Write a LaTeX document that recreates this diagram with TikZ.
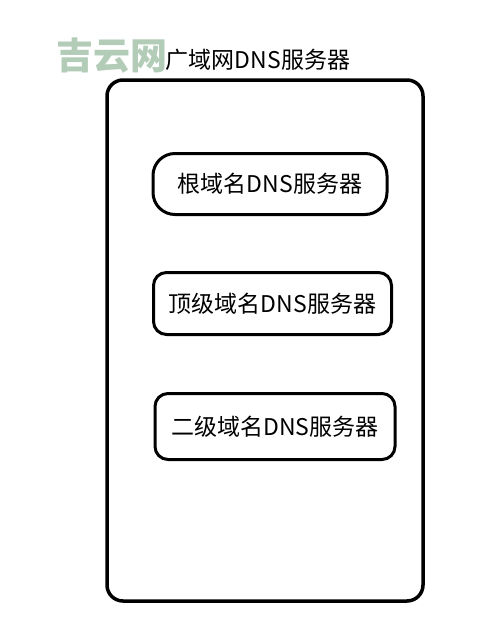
\documentclass[tikz,border=0pt]{standalone}
\usepackage{fontspec}
\setmainfont{Noto Sans CJK SC}
\newfontfamily\cjk{Noto Sans CJK SC}
\definecolor{wmgreen}{RGB}{178,204,184}
\tikzset{
  server/.style={draw=black, line width=3pt, rounded corners=13pt, inner sep=0pt,
    font=\cjk\fontsize{23}{26}\selectfont},
}
\begin{document}
\begin{tikzpicture}[x=1pt,y=-1pt]
\useasboundingbox[fill=white] (0,0) rectangle (500,621);
\node[font=\cjk\bfseries\fontsize{37}{40}\selectfont, text=wmgreen] (wm) at (112,56) {吉云网};
\node[font=\cjk\fontsize{23}{26}\selectfont] (title) at (258,60) {广域网DNS服务器};
\node[draw=black, line width=3.5pt, rounded corners=16pt, minimum width=316pt, minimum height=521pt] (wan) at (265,340.5) {};
\node[server, rounded corners=22pt, minimum width=234pt, minimum height=61pt] (root) at (270,184) {根域名DNS服务器};
\node[server, minimum width=238pt, minimum height=62pt] (tld) at (272.5,303.5) {顶级域名DNS服务器};
\node[server, minimum width=240pt, minimum height=66pt] (sld) at (275,426.5) {二级域名DNS服务器};
\end{tikzpicture}
\end{document}
